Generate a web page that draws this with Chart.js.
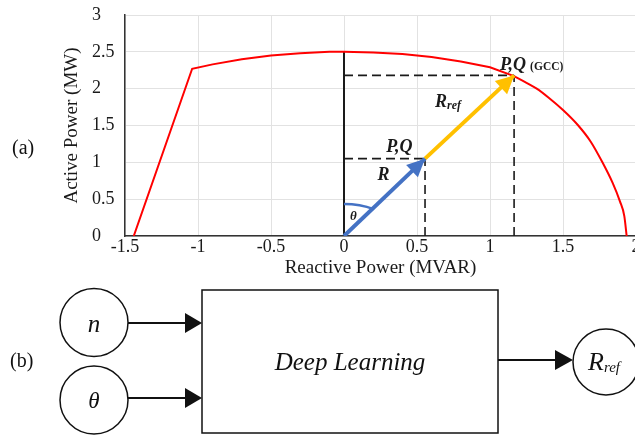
<!DOCTYPE html>
<html>
<head>
<meta charset="utf-8">
<title>Capability curve and deep learning block</title>
<script src="https://cdn.jsdelivr.net/npm/chart.js@4.4.1/dist/chart.umd.min.js"></script>
<style>
    html, body { margin: 0; padding: 0; background: #fff; overflow: hidden; }
    #wrap { position: relative; width: 635px; height: 436px; overflow: hidden; }
    #pq { position: absolute; left: 0; top: 0; }
    #diagram { position: absolute; left: 0; top: 0; pointer-events: none; }
</style>
</head>
<body>
<div id="wrap">
    <canvas id="pq" width="660" height="290"></canvas>
    <svg id="diagram" width="635" height="436" font-family="'Liberation Serif', 'Times New Roman', serif">
        <text x="12" y="154" font-size="20" fill="#111">(a)</text>
        <text x="10" y="367" font-size="20" fill="#111">(b)</text>

        <!-- inputs -->
        <circle cx="94" cy="322.5" r="34" fill="none" stroke="#111" stroke-width="1.5"/>
        <circle cx="94" cy="400" r="34" fill="none" stroke="#111" stroke-width="1.5"/>
        <text x="94" y="332" font-size="25" font-style="italic" text-anchor="middle" fill="#111">n</text>
        <text x="94" y="408" font-size="23" font-style="italic" text-anchor="middle" fill="#111">θ</text>

        <line x1="128" y1="323" x2="186" y2="323" stroke="#111" stroke-width="2"/>
        <polygon points="185,313 202,323 185,333" fill="#111"/>
        <line x1="128" y1="398" x2="186" y2="398" stroke="#111" stroke-width="2"/>
        <polygon points="185,388 202,398 185,408" fill="#111"/>

        <!-- model -->
        <rect x="202" y="290" width="296" height="143" fill="none" stroke="#111" stroke-width="1.5"/>
        <text x="350" y="370" font-size="25" font-style="italic" text-anchor="middle" fill="#111">Deep Learning</text>

        <!-- output -->
        <line x1="498" y1="360" x2="557" y2="360" stroke="#111" stroke-width="2"/>
        <polygon points="555,350 573,360 555,370" fill="#111"/>
        <circle cx="606" cy="362" r="33" fill="none" stroke="#111" stroke-width="1.5"/>
        <text x="588" y="370" font-size="26" font-style="italic" fill="#111">R<tspan font-size="15" dy="2">ref</tspan></text>
    </svg>
</div>

<script>
// --- Data ---
// capability curve (reactive power Q in MVAR, active power P in MW)
// upper part: from the P = 0 point on the left, up to the GCC point
const capUpperQ = [-1.44, -1.04, -0.9, -0.7, -0.5, -0.3, -0.1, 0, 0.2, 0.4, 0.6, 0.8, 1.0, 1.165];
const capUpperP = [0, 2.27, 2.33, 2.40, 2.45, 2.48, 2.50, 2.50, 2.49, 2.47, 2.43, 2.37, 2.29, 2.17];
// right part: from the GCC point down to P = 0
const capRightQ = [1.165, 1.25, 1.32, 1.40, 1.50, 1.60, 1.69, 1.77, 1.84, 1.89, 1.92, 1.936];
const capRightP = [2.17, 2.08, 2.00, 1.88, 1.71, 1.51, 1.28, 1.00, 0.72, 0.47, 0.27, 0];

// origin, operating point (P,Q) and the GCC point
const pointQ = [0, 0.555, 1.165];
const pointP = [0, 1.05, 2.18];

// solid reference line along the P axis
const axisQ = [0, 0];
const axisP = [0, 2.5];

const xTickLabels = ["-1.5", "-1", "-0.5", "0", "0.5", "1", "1.5", "2"];
const yTickLabels = ["0", "0.5", "1", "1.5", "2", "2.5", "3"];

const SERIF = "'Liberation Serif', 'Times New Roman', serif";
const BLUE = "#4472c4";
const GOLD = "#ffc000";
const INK = "#1a1a1a";

function pts(qs, ps) {
    return qs.map((q, i) => ({ x: q, y: ps[i] }));
}

// --- Arrow heads, angle arc and labels ---
function arrowHead(ctx, x0, y0, x1, y1, len, half, color) {
    const a = Math.atan2(y1 - y0, x1 - x0);
    const c = Math.cos(a), s = Math.sin(a);
    ctx.fillStyle = color;
    ctx.beginPath();
    ctx.moveTo(x1, y1);
    ctx.lineTo(x1 - len * c + half * s, y1 - len * s - half * c);
    ctx.lineTo(x1 - len * c - half * s, y1 - len * s + half * c);
    ctx.closePath();
    ctx.fill();
}

function drawParts(ctx, parts, x, y) {
    let cx = x;
    parts.forEach(p => {
        ctx.font = p.font;
        ctx.fillText(p.text, cx, y + (p.dy || 0));
        cx += ctx.measureText(p.text).width + (p.gap || 0);
    });
}

const overlay = {
    id: "overlay",
    afterDatasetsDraw(chart) {
        const ctx = chart.ctx;
        const sx = chart.scales.x, sy = chart.scales.y;
        const X = v => sx.getPixelForValue(v);
        const Y = v => sy.getPixelForValue(v);

        ctx.save();

        // arrow heads
        arrowHead(ctx, X(pointQ[0]), Y(pointP[0]), X(pointQ[1]), Y(pointP[1]), 18, 8.5, BLUE);
        arrowHead(ctx, X(pointQ[1]), Y(pointP[1]), X(pointQ[2]), Y(pointP[2]), 18, 9, GOLD);

        // theta arc between the P axis and R
        ctx.strokeStyle = BLUE;
        ctx.lineWidth = 2.5;
        ctx.beginPath();
        ctx.ellipse(X(0), Y(0), 55, 32, 0, -Math.PI / 2, -1.0);
        ctx.stroke();

        // labels
        ctx.fillStyle = INK;
        ctx.textBaseline = "alphabetic";
        ctx.textAlign = "left";
        const bi = size => "italic bold " + size + "px " + SERIF;

        drawParts(ctx, [{ text: "θ", font: bi(13) }], X(0.041), Y(0.217));
        drawParts(ctx, [{ text: "R", font: bi(18) }], X(0.23), Y(0.76));
        drawParts(ctx, [{ text: "P,Q", font: bi(18) }], X(0.29), Y(1.14));
        drawParts(ctx, [
            { text: "R", font: bi(18) },
            { text: "ref", font: bi(12), dy: 2 }
        ], X(0.623), Y(1.757));
        drawParts(ctx, [
            { text: "P,Q", font: bi(18), gap: 4 },
            { text: "(GCC)", font: "bold 11.5px " + SERIF }
        ], X(1.068), Y(2.255));

        ctx.restore();
    }
};

// --- Chart ---
Chart.defaults.font.family = SERIF;
Chart.defaults.color = INK;

const dashed = { showLine: true, borderColor: INK, borderWidth: 1.6, borderDash: [9, 5], pointRadius: 0, order: 4 };

new Chart(document.getElementById("pq").getContext("2d"), {
    type: "scatter",
    data: {
        datasets: [
            {
                label: "Capability curve",
                data: pts(capUpperQ, capUpperP),
                showLine: true,
                borderColor: "#ff0000",
                borderWidth: 2,
                pointRadius: 0,
                order: 3
            },
            {
                label: "Capability curve (right)",
                data: pts(capRightQ, capRightP),
                showLine: true,
                cubicInterpolationMode: "monotone",
                borderColor: "#ff0000",
                borderWidth: 2,
                pointRadius: 0,
                order: 3
            },
            {
                label: "P axis",
                data: pts(axisQ, axisP),
                showLine: true,
                borderColor: INK,
                borderWidth: 2,
                pointRadius: 0,
                order: 4
            },
            Object.assign({ label: "P,Q horizontal", data: pts([0, pointQ[1]], [pointP[1], pointP[1]]) }, dashed),
            Object.assign({ label: "P,Q vertical", data: pts([pointQ[1], pointQ[1]], [0, pointP[1]]) }, dashed),
            Object.assign({ label: "GCC horizontal", data: pts([0, pointQ[2]], [pointP[2], pointP[2]]) }, dashed),
            Object.assign({ label: "GCC vertical", data: pts([pointQ[2], pointQ[2]], [0, pointP[2]]) }, dashed),
            {
                label: "R",
                data: pts(pointQ.slice(0, 2), pointP.slice(0, 2)),
                showLine: true,
                borderColor: BLUE,
                borderWidth: 4,
                pointRadius: 0,
                order: 1
            },
            {
                label: "Rref",
                data: pts(pointQ.slice(1, 3), pointP.slice(1, 3)),
                showLine: true,
                borderColor: GOLD,
                borderWidth: 4,
                pointRadius: 0,
                order: 2
            }
        ]
    },
    options: {
        responsive: false,
        animation: false,
        layout: { padding: { left: 92, top: 15, right: 24, bottom: 0 } },
        plugins: {
            legend: { display: false },
            tooltip: { enabled: false }
        },
        scales: {
            x: {
                type: "linear",
                min: -1.5,
                max: 2,
                afterFit: s => { s.height = 54; },
                ticks: {
                    stepSize: 0.5,
                    padding: 0,
                    maxRotation: 0,
                    autoSkip: false,
                    font: { size: 18 },
                    callback: (v, i) => xTickLabels[i]
                },
                grid: { color: "#e2e2e2", drawTicks: false },
                border: { color: "#333", width: 1.5 },
                title: {
                    display: true,
                    text: "Reactive Power (MVAR)",
                    font: { size: 19 },
                    padding: { top: 0, bottom: 10.6 }
                }
            },
            y: {
                min: 0,
                max: 3,
                afterFit: s => { s.width = 33; },
                ticks: {
                    stepSize: 0.5,
                    padding: 0,
                    crossAlign: "far",
                    font: { size: 18 },
                    callback: (v, i) => yTickLabels[i]
                },
                grid: { color: "#e2e2e2", drawTicks: false },
                border: { color: "#333", width: 1.5 },
                title: {
                    display: true,
                    text: "Active Power (MW)",
                    font: { size: 19 },
                    padding: { top: -31.4, bottom: 0 }
                }
            }
        }
    },
    plugins: [overlay]
});
</script>
</body>
</html>
